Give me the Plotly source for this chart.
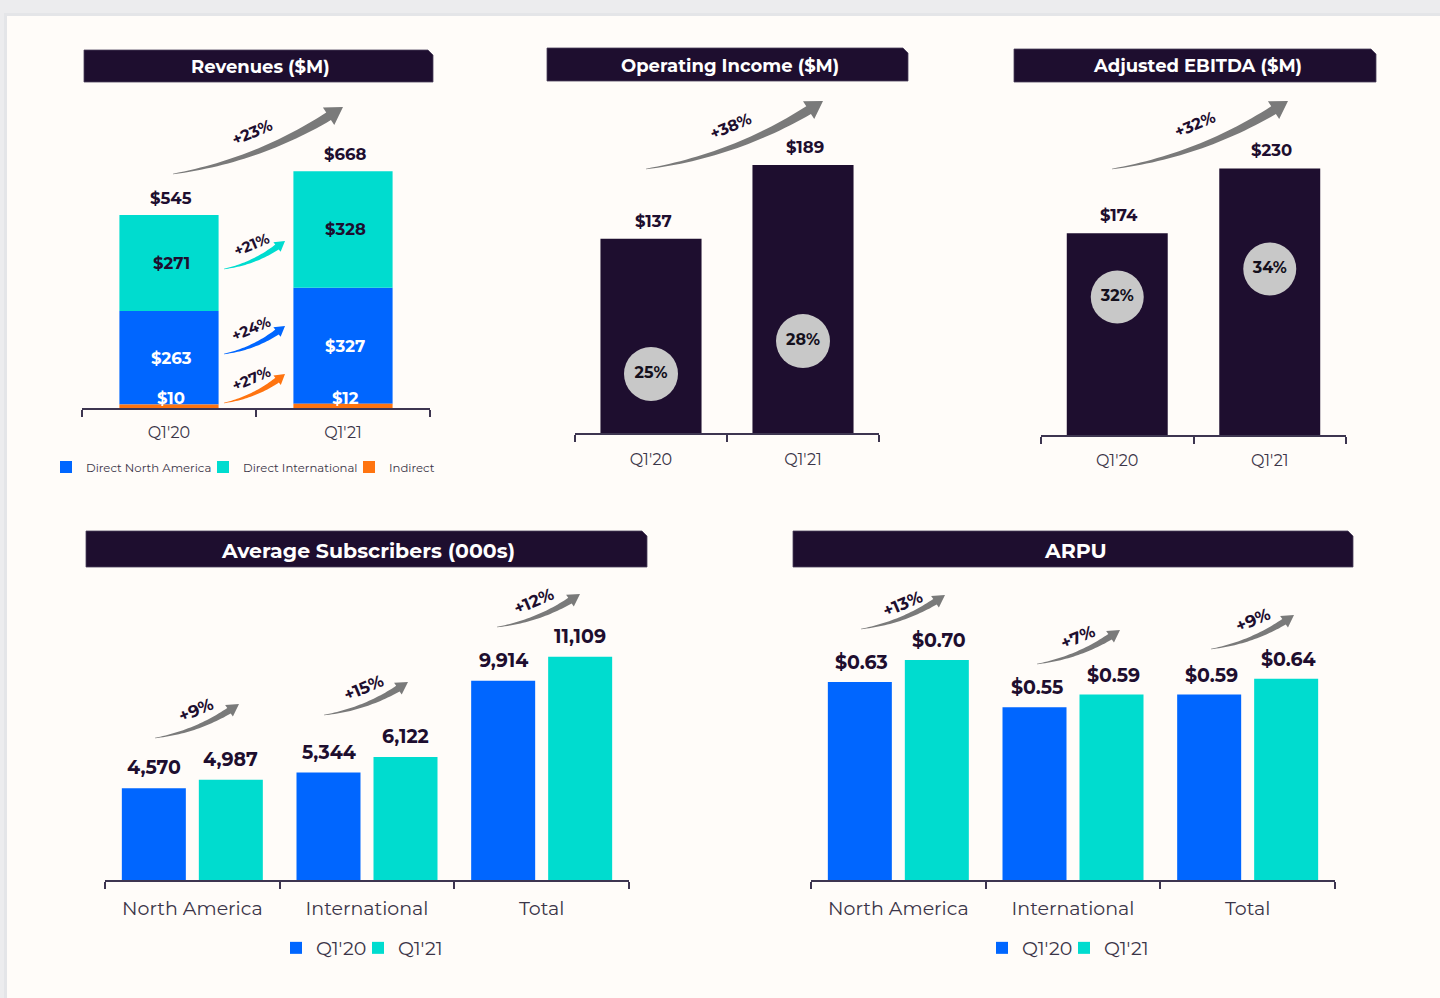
import math
import plotly.graph_objects as go

W, H = 1440, 998

# ---------------- data ----------------
rev_periods = ["Q1'20", "Q1'21"]
rev_dna = [263, 327]
rev_di = [271, 328]
rev_ind = [10, 12]
rev_total = [545, 668]
rev_growth_total = "+23%"
rev_growth_seg = ["+21%", "+24%", "+27%"]  # international, north america, indirect

oi_periods = ["Q1'20", "Q1'21"]
oi_values = [137, 189]
oi_margin = ["25%", "28%"]
oi_growth = "+38%"

ebitda_periods = ["Q1'20", "Q1'21"]
ebitda_values = [174, 230]
ebitda_margin = ["32%", "34%"]
ebitda_growth = "+32%"

regions = ["North America", "International", "Total"]
subs_q120 = [4570, 5344, 9914]
subs_q121 = [4987, 6122, 11109]
subs_growth = ["+9%", "+15%", "+12%"]

arpu_q120 = [0.63, 0.55, 0.59]
arpu_q121 = [0.70, 0.59, 0.64]
arpu_growth = ["+13%", "+7%", "+9%"]

# ---------------- style ----------------
FONT = "Montserrat, Inter, sans-serif"
DARK = "#1e0e2f"
BLUE = "#0066ff"
TEAL = "#00dccf"
ORANGE = "#ff7410"
GRAY_ARROW = "#7a7a7a"
CIRCLE = "#c8c8c8"
TICK = "#3b3548"
AXLINE = "#3d3550"
CARD = "#fffcf9"

OI_CIRCLE_FRAC = [0.304, 0.343]
EB_CIRCLE_FRAC = [0.684, 0.623]


def px(x):
    return x / W


def py(y):
    return 1 - y / H


fig = go.Figure()

# ---------- chart 1: revenues (stacked via base) ----------
base_di = [a + b for a, b in zip(rev_ind, rev_dna)]
fig.add_trace(go.Bar(x=rev_periods, y=rev_dna, base=rev_ind, width=0.57,
                     marker=dict(color=BLUE, line=dict(width=0)),
                     name="Direct North America", legend="legend", legendwidth=112,
                     xaxis="x", yaxis="y"))
fig.add_trace(go.Bar(x=rev_periods, y=rev_di, base=base_di, width=0.57,
                     marker=dict(color=TEAL, line=dict(width=0)),
                     name="Direct International", legend="legend", legendwidth=101,
                     xaxis="x", yaxis="y"))
fig.add_trace(go.Bar(x=rev_periods, y=rev_ind, base=[0, 0], width=0.57,
                     marker=dict(color=ORANGE, line=dict(width=0)),
                     name="Indirect", legend="legend",
                     xaxis="x", yaxis="y"))

# ---------- chart 2: operating income ----------
fig.add_trace(go.Bar(x=oi_periods, y=oi_values, width=0.665,
                     marker=dict(color=DARK, line=dict(width=0)),
                     showlegend=False, xaxis="x2", yaxis="y2"))
fig.add_trace(go.Scatter(x=oi_periods,
                         y=[v * f for v, f in zip(oi_values, OI_CIRCLE_FRAC)],
                         mode="markers+text", text=oi_margin,
                         textposition="middle center",
                         textfont=dict(family=FONT, size=16, color="#14101c", weight=700),
                         marker=dict(size=54, color=CIRCLE, line=dict(width=0)),
                         showlegend=False, hoverinfo="skip", cliponaxis=False,
                         xaxis="x2", yaxis="y2"))

# ---------- chart 3: adjusted EBITDA ----------
fig.add_trace(go.Bar(x=ebitda_periods, y=ebitda_values, width=0.662,
                     marker=dict(color=DARK, line=dict(width=0)),
                     showlegend=False, xaxis="x3", yaxis="y3"))
fig.add_trace(go.Scatter(x=ebitda_periods,
                         y=[v * f for v, f in zip(ebitda_values, EB_CIRCLE_FRAC)],
                         mode="markers+text", text=ebitda_margin,
                         textposition="middle center",
                         textfont=dict(family=FONT, size=16, color="#14101c", weight=700),
                         marker=dict(size=53, color=CIRCLE, line=dict(width=0)),
                         showlegend=False, hoverinfo="skip", cliponaxis=False,
                         xaxis="x3", yaxis="y3"))

# ---------- grouped charts ----------
BW = 0.3664
GAP = 0.0744
for (q0, q1, xa, ya, lg) in [(subs_q120, subs_q121, "x4", "y4", "legend2"),
                             (arpu_q120, arpu_q121, "x5", "y5", "legend3")]:
    fig.add_trace(go.Bar(x=regions, y=q0, width=BW, offset=-(BW + GAP / 2),
                         marker=dict(color=BLUE, line=dict(width=0)),
                         name="Q1'20", legend=lg, legendwidth=37, xaxis=xa, yaxis=ya))
    fig.add_trace(go.Bar(x=regions, y=q1, width=BW, offset=GAP / 2,
                         marker=dict(color=TEAL, line=dict(width=0)),
                         name="Q1'21", legend=lg, xaxis=xa, yaxis=ya))

# ---------- axes ----------
charts = {
    # name: (x_left, x_right, y_bottom, y_top, px_per_unit, label_standoff)
    "1": (82, 430, 408, 100, 0.355, 9),
    "2": (575, 879, 433, 100, 1.418, 11),
    "3": (1041, 1346, 435, 100, 1.159, 10),
    "4": (105, 629, 880, 580, 0.0201, 10),
    "5": (811, 1335, 880, 580, 314.3, 10),
}
layout_axes = {}
for k, (xl, xr, yb, yt, s, so) in charts.items():
    sfx = "" if k == "1" else k
    big = k in ("4", "5")
    layout_axes["xaxis" + sfx] = dict(
        domain=[px(xl), px(xr)], anchor="y" + sfx, type="category",
        showline=True, linecolor=AXLINE, linewidth=1.5,
        ticks="outside", tickson="boundaries", ticklen=7, tickwidth=1.5,
        tickcolor=AXLINE, showgrid=False, zeroline=False, fixedrange=True,
        ticklabelstandoff=so,
        tickfont=dict(family=FONT, size=19 if big else 16, color=TICK),
    )
    layout_axes["yaxis" + sfx] = dict(
        domain=[py(yb), py(yt)], anchor="x" + sfx, visible=False,
        range=[0, (yb - yt) / s], fixedrange=True,
    )

# ---------- annotations ----------
ann = []


def label(x, y, text, xa, ya, size, color=DARK, yanchor="middle", yshift=0, xshift=0):
    ann.append(dict(x=x, y=y, xref=xa, yref=ya, text=text, showarrow=False,
                    yanchor=yanchor, xanchor="center", yshift=yshift, xshift=xshift,
                    font=dict(family=FONT, size=size, color=color, weight=700)))


# revenues labels
for i, p in enumerate(rev_periods):
    label(p, rev_total[i], "$%d" % rev_total[i], "x", "y", 16.5, yanchor="bottom", yshift=5, xshift=2)
    label(p, base_di[i] + rev_di[i] / 2, "$%d" % rev_di[i], "x", "y", 16.5, xshift=2)
    label(p, rev_ind[i] + rev_dna[i] / 2, "$%d" % rev_dna[i], "x", "y", 16.5, color="white", xshift=2)
    label(p, rev_ind[i], "$%d" % rev_ind[i], "x", "y", 16.5, color="white",
          yanchor="bottom", yshift=-6, xshift=2)
for i, p in enumerate(oi_periods):
    label(p, oi_values[i], "$%d" % oi_values[i], "x2", "y2", 16.5, yanchor="bottom", yshift=6, xshift=2)
for i, p in enumerate(ebitda_periods):
    label(p, ebitda_values[i], "$%d" % ebitda_values[i], "x3", "y3", 16.5, yanchor="bottom", yshift=6, xshift=2)
SHIFT = 38.5
for i, r in enumerate(regions):
    label(r, subs_q120[i], f"{subs_q120[i]:,}", "x4", "y4", 19, yanchor="bottom", yshift=7, xshift=-SHIFT)
    label(r, subs_q121[i], f"{subs_q121[i]:,}", "x4", "y4", 19, yanchor="bottom", yshift=7, xshift=SHIFT)
    label(r, arpu_q120[i], f"${arpu_q120[i]:.2f}", "x5", "y5", 19, yanchor="bottom", yshift=6, xshift=-SHIFT + 2)
    label(r, arpu_q121[i], f"${arpu_q121[i]:.2f}", "x5", "y5", 19, yanchor="bottom", yshift=6, xshift=SHIFT + 2)

# ---------- shapes: card, headers, arrows ----------
shapes = []
shapes.append(dict(type="rect", xref="paper", yref="paper", x0=px(4), x1=1, y0=0, y1=py(13),
                   fillcolor="#e4e5e8", line=dict(width=0), layer="below"))
shapes.append(dict(type="rect", xref="paper", yref="paper", x0=px(7), x1=1, y0=0, y1=py(16),
                   fillcolor=CARD, line=dict(width=0), layer="below"))

headers = [
    (84, 433, 50, 82, "Revenues ($M)", 18),
    (547, 908, 48, 81, "Operating Income ($M)", 18),
    (1014, 1376, 49, 82, "Adjusted EBITDA ($M)", 18),
    (86, 647, 531, 567, "Average Subscribers (000s)", 20.5),
    (793, 1353, 531, 567, "ARPU", 20.5),
]
for (x0, x1, y0, y1, t, fs) in headers:
    c = 5
    path = (f"M{px(x0)},{py(y1)} L{px(x0)},{py(y0)} L{px(x1 - c)},{py(y0)} "
            f"L{px(x1)},{py(y0 + c)} L{px(x1)},{py(y1)} Z")
    shapes.append(dict(type="path", xref="paper", yref="paper", path=path,
                       fillcolor=DARK, line=dict(color="#4a3f5c", width=0.8)))
    ann.append(dict(x=px((x0 + x1) / 2 + 2), y=py((y0 + y1) / 2 + 1), xref="paper", yref="paper",
                    text=t, showarrow=False, xanchor="center", yanchor="middle",
                    font=dict(family=FONT, size=fs, color="white", weight=700)))


def arrow(p0, p1, shaft_w, head_w, head_len, color, bend=0.11):
    x0, y0 = p0
    x1, y1 = p1
    dx, dy = x1 - x0, y1 - y0
    L = math.hypot(dx, dy)
    nx, ny = -dy / L, dx / L
    cx = (x0 + x1) / 2 + nx * bend * L
    cy = (y0 + y1) / 2 + ny * bend * L

    def Q(t):
        a = (1 - t) ** 2
        b = 2 * (1 - t) * t
        c = t * t
        return (a * x0 + b * cx + c * x1, a * y0 + b * cy + c * y1)

    def dQ(t):
        return (2 * (1 - t) * (cx - x0) + 2 * t * (x1 - cx),
                2 * (1 - t) * (cy - y0) + 2 * t * (y1 - cy))

    th = 1.0
    for i in range(1000, 0, -1):
        t = i / 1000
        qx, qy = Q(t)
        if math.hypot(x1 - qx, y1 - qy) >= head_len:
            th = t
            break
    n = 30
    up, lo = [], []
    for i in range(n + 1):
        t = th * i / n
        qx, qy = Q(t)
        ddx, ddy = dQ(t)
        l = math.hypot(ddx, ddy)
        mx, my = -ddy / l, ddx / l
        w = shaft_w / 2 * (0.06 + 0.94 * (i / n) ** 0.9)
        up.append((qx - mx * w, qy - my * w))
        lo.append((qx + mx * w, qy + my * w))
    bx, by = Q(th)
    ux, uy = x1 - bx, y1 - by
    ul = math.hypot(ux, uy)
    ux, uy = ux / ul, uy / ul
    hx, hy = -uy, ux
    pts = up + [(bx - hx * head_w / 2, by - hy * head_w / 2), (x1, y1),
                (bx + hx * head_w / 2, by + hy * head_w / 2)] + lo[::-1]
    path = "M" + " L".join(f"{px(a):.5f},{py(b):.5f}" for a, b in pts) + " Z"
    shapes.append(dict(type="path", xref="paper", yref="paper", path=path,
                       fillcolor=color, line=dict(width=0)))


def growth_text(x, y, t, size=15, angle=-23):
    ann.append(dict(x=px(x), y=py(y), xref="paper", yref="paper", text=t, showarrow=False,
                    textangle=angle, xanchor="center", yanchor="middle",
                    font=dict(family=FONT, size=size, color=DARK, weight=700)))


# big arrows
arrow((173, 174), (343, 107), 9, 21, 17, GRAY_ARROW)
growth_text(252, 132, rev_growth_total, 16)
arrow((646, 169), (823, 101), 9, 21, 17, GRAY_ARROW)
growth_text(730, 126, oi_growth, 16)
arrow((1112, 169), (1288, 101), 9, 21, 17, GRAY_ARROW)
growth_text(1195, 125, ebitda_growth, 16)

# revenue segment arrows
seg_cols = [TEAL, BLUE, ORANGE]
seg_pos = [((224, 269), (285, 241), (251, 244)),
           ((224, 354), (285, 326), (251, 329)),
           ((224, 403), (285, 374), (251, 378))]
for (s, e, tp), col, g in zip(seg_pos, seg_cols, rev_growth_seg):
    arrow(s, e, 6, 12, 10, col, bend=0.13)
    growth_text(tp[0], tp[1], g, 15)

# subscribers arrows
sub_pos = [((155, 738), (239, 704), (196, 710)),
           ((324, 715), (408, 682), (363, 688)),
           ((497, 627), (580, 594), (534, 601))]
for (s, e, tp), g in zip(sub_pos, subs_growth):
    arrow(s, e, 6.5, 14, 12, GRAY_ARROW, bend=0.12)
    growth_text(tp[0], tp[1], g, 17)

arpu_pos = [((861, 629), (945, 595), (902, 604)),
            ((1037, 664), (1120, 630), (1078, 637)),
            ((1211, 649), (1294, 615), (1253, 620))]
for (s, e, tp), g in zip(arpu_pos, arpu_growth):
    arrow(s, e, 6.5, 14, 12, GRAY_ARROW, bend=0.12)
    growth_text(tp[0], tp[1], g, 17)

# ---------- legends ----------
leg_common = dict(orientation="h", xanchor="left", yanchor="middle",
                  bgcolor="rgba(0,0,0,0)", traceorder="normal", itemclick=False,
                  itemdoubleclick=False)

fig.update_layout(
    width=W, height=H, margin=dict(l=0, r=0, t=0, b=0),
    paper_bgcolor="#ececee", plot_bgcolor="rgba(0,0,0,0)",
    barmode="overlay",
    font=dict(family=FONT, color=DARK),
    showlegend=True,
    legend=dict(x=px(46), y=py(467), font=dict(family=FONT, size=11.7, color=TICK), **leg_common),
    legend2=dict(x=px(276), y=py(948), font=dict(family=FONT, size=19, color=TICK), **leg_common),
    legend3=dict(x=px(982), y=py(948), font=dict(family=FONT, size=19, color=TICK), **leg_common),
    shapes=shapes,
    annotations=ann,
    **layout_axes,
)

fig.write_html("out.html")
